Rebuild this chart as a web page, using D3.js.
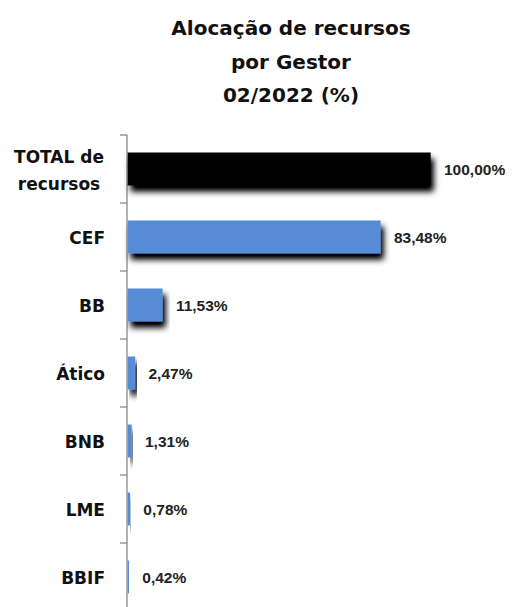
<!DOCTYPE html>
<html>
<head>
<meta charset="utf-8">
<script src="https://cdn.jsdelivr.net/npm/d3@7/dist/d3.min.js"></script>
<style>
  html, body { margin: 0; padding: 0; background: #fff; }
  svg { display: block; }
</style>
</head>
<body>
<script>
const categories = ["TOTAL de recursos", "CEF", "BB", "Ático", "BNB", "LME", "BBIF"];
const values = [100.00, 83.48, 11.53, 2.47, 1.31, 0.78, 0.42];
const valueLabels = ["100,00%", "83,48%", "11,53%", "2,47%", "1,31%", "0,78%", "0,42%"];
const titleLines = ["Alocação de recursos", "por Gestor", "02/2022 (%)"];

const W = 515, H = 607;
const svg = d3.select("body").append("svg").attr("width", W).attr("height", H);

const defs = svg.append("defs");
const f = defs.append("filter").attr("id", "shadow")
  .attr("x", "-10%").attr("y", "-30%").attr("width", "130%").attr("height", "190%");
f.append("feGaussianBlur").attr("in", "SourceAlpha").attr("stdDeviation", 3).attr("result", "b");
f.append("feOffset").attr("in", "b").attr("dx", 3).attr("dy", 6).attr("result", "o");
f.append("feComponentTransfer").attr("in", "o").attr("result", "s")
  .append("feFuncA").attr("type", "linear").attr("slope", 1.1);
const m = f.append("feMerge");
m.append("feMergeNode").attr("in", "s");
m.append("feMergeNode").attr("in", "SourceGraphic");

// Title
svg.append("g").selectAll("text").data(titleLines).join("text")
  .attr("x", 291)
  .attr("y", (d, i) => [35, 69, 102][i])
  .attr("text-anchor", "middle")
  .attr("font-family", "DejaVu Sans")
  .attr("font-weight", "bold")
  .attr("font-size", 20)
  .attr("fill", "#111")
  .text(d => d);

const x = d3.scaleLinear().domain([0, 100]).range([127, 430]);
const y = d3.scaleBand().domain(categories).range([135, 611])
  .paddingInner(0.515).paddingOuter(0.2575);

// Axis
const step = y.step();
const axisG = svg.append("g");
axisG.append("line")
  .attr("x1", x(0)).attr("x2", x(0))
  .attr("y1", y.range()[0]).attr("y2", y.range()[1])
  .attr("stroke", "#888").attr("stroke-width", 1.3);
const boundaries = d3.range(categories.length).map(i => y.range()[0] + i * step);
axisG.selectAll("line.tick").data(boundaries).join("line")
  .attr("class", "tick")
  .attr("x1", x(0) - 7).attr("x2", x(0))
  .attr("y1", d => d).attr("y2", d => d)
  .attr("stroke", "#888").attr("stroke-width", 1.3);

// Bars
svg.append("g").selectAll("rect").data(categories).join("rect")
  .attr("x", x(0) + 0.7)
  .attr("y", d => y(d))
  .attr("width", (d, i) => Math.max(0, x(values[i]) - x(0)))
  .attr("height", y.bandwidth())
  .attr("fill", (d, i) => i === 0 ? "#000" : "#558CD5")
  .attr("filter", "url(#shadow)");

// Value labels
svg.append("g").selectAll("text").data(categories).join("text")
  .attr("x", (d, i) => x(values[i]) + 14)
  .attr("y", d => y(d) + y.bandwidth() / 2 + 5.5)
  .attr("font-family", "Liberation Sans")
  .attr("font-weight", "bold")
  .attr("font-size", 15.5)
  .attr("fill", "#222")
  .text((d, i) => valueLabels[i]);

// Category labels
const catG = svg.append("g");
categories.forEach((c, i) => {
  const cy = y(c) + y.bandwidth() / 2;
  if (c === "TOTAL de recursos") {
    const lines = ["TOTAL de", "recursos"];
    const t = catG.append("text")
      .attr("font-family", "DejaVu Sans").attr("font-weight", "bold")
      .attr("font-size", 17).attr("fill", "#111")
      .attr("text-anchor", "middle");
    lines.forEach((l, j) => {
      t.append("tspan").attr("x", 59).attr("y", cy - 6 + j * 26.5).text(l);
    });
  } else {
    catG.append("text")
      .attr("x", 105).attr("y", cy + 6.5)
      .attr("text-anchor", "end")
      .attr("font-family", "DejaVu Sans").attr("font-weight", "bold")
      .attr("font-size", 17).attr("fill", "#111")
      .text(c);
  }
});
</script>
</body>
</html>
